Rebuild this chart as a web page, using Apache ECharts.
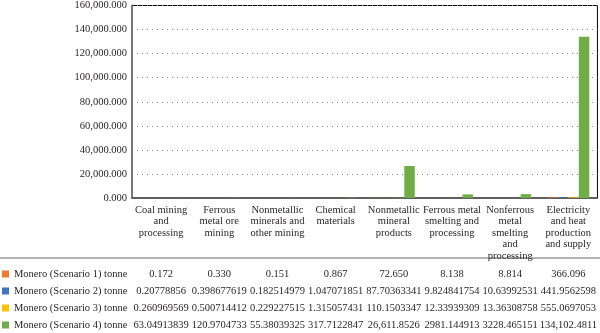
<!DOCTYPE html>
<html>
<head>
<meta charset="utf-8">
<script src="https://cdn.jsdelivr.net/npm/echarts@6/dist/echarts.min.js"></script>
<style>
  html, body { margin: 0; padding: 0; background: #fff; }
  #chart { width: 600px; height: 333px; }
</style>
</head>
<body>
<div id="chart"></div>
<script>
// Industry sectors (line breaks give the wrapped tick labels)
const categories = [
  'Coal mining\nand\nprocessing',
  'Ferrous\nmetal ore\nmining',
  'Nonmetallic\nminerals and\nother mining',
  'Chemical\nmaterials',
  'Nonmetallic\nmineral\nproducts',
  'Ferrous metal\nsmelting and\nprocessing',
  'Nonferrous\nmetal\nsmelting\nand\nprocessing',
  'Electricity\nand heat\nproduction\nand supply'
];

const seriesNames = [
  'Monero (Scenario 1) tonne',
  'Monero (Scenario 2) tonne',
  'Monero (Scenario 3) tonne',
  'Monero (Scenario 4) tonne'
];

const scenario1 = [0.172, 0.330, 0.151, 0.867, 72.650, 8.138, 8.814, 366.096];
const scenario2 = [0.20778856, 0.398677619, 0.182514979, 1.047071851, 87.70363341, 9.824841754, 10.63992531, 441.9562598];
const scenario3 = [0.260969569, 0.500714412, 0.229227515, 1.315057431, 110.1503347, 12.33939309, 13.36308758, 555.0697053];
const scenario4 = [63.04913839, 120.9704733, 55.38039325, 317.7122847, 26611.8526, 2981.144913, 3228.465151, 134102.4811];

const seriesColors = ['#ED7D31', '#4472C4', '#FFC000', '#70AD47'];

// Value axis
const yMin = 0, yMax = 160000, yStep = 20000;

const allValues = [scenario1, scenario2, scenario3, scenario4];
const FONT = '"Liberation Serif", "DejaVu Serif", serif';
const TEXT = '#231f20';

function groupThousands(intPart) {
  return intPart.replace(/\B(?=(\d{3})+(?!\d))/g, ',');
}

// Table cell text: scenario 1 is shown with three decimals, the others as computed;
// values of five or more integer digits get thousands separators.
function cellText(row, v) {
  let s = row === 0 ? v.toFixed(3) : String(v);
  const parts = s.split('.');
  if (Math.abs(v) >= 10000) parts[0] = groupThousands(parts[0]);
  return parts.join('.');
}

const PLOT_BOTTOM = 198;
const rowCenters = [274, 291, 308, 325];

const tableAxes = allValues.map((vals, row) => ({
  type: 'category',
  data: categories,
  gridIndex: 0,
  position: 'bottom',
  offset: rowCenters[row] - PLOT_BOTTOM - 6,
  axisLine: { show: false },
  axisTick: { show: false },
  axisLabel: {
    interval: 0,
    margin: 0,
    fontFamily: FONT,
    fontSize: 10.5,
    lineHeight: 12,
    color: TEXT,
    formatter: (value, idx) => cellText(row, vals[idx])
  }
}));

const chart = echarts.init(document.getElementById('chart'), null, { renderer: 'canvas' });

chart.setOption({
  animation: false,
  backgroundColor: '#fff',
  grid: {
    left: 132, right: 2, top: 3, bottom: 333 - PLOT_BOTTOM,
    show: true, borderColor: '#000', borderWidth: 1, backgroundColor: 'transparent'
  },
  legend: {
    orient: 'vertical',
    left: 2,
    top: rowCenters[0] - 6,
    height: 80,
    padding: 0,
    icon: 'rect',
    itemWidth: 7,
    itemHeight: 7,
    itemGap: 5,
    selectedMode: false,
    textStyle: { fontFamily: FONT, fontSize: 10.5, color: TEXT, lineHeight: 12 },
    data: seriesNames
  },
  xAxis: [
    {
      type: 'category',
      data: categories,
      axisLine: { lineStyle: { color: '#555', width: 1.5 } },
      axisTick: { show: false },
      axisLabel: {
        interval: 0,
        margin: 6,
        fontFamily: FONT,
        fontSize: 10.5,
        lineHeight: 11.5,
        color: TEXT
      }
    },
    ...tableAxes
  ],
  yAxis: {
    type: 'value',
    min: yMin,
    max: yMax,
    interval: yStep,
    axisLine: { show: true, lineStyle: { color: '#777', width: 2 } },
    axisTick: { show: false },
    splitLine: { lineStyle: { color: '#8a8a8a', width: 1, type: [1, 4] } },
    axisLabel: {
      margin: 5,
      fontFamily: FONT,
      fontSize: 10.5,
      color: TEXT,
      formatter: v => groupThousands(Math.floor(v).toString()) + '.' + v.toFixed(3).split('.')[1]
    }
  },
  series: allValues.map((vals, i) => ({
    name: seriesNames[i],
    type: 'bar',
    data: vals,
    barGap: '0%',
    barCategoryGap: '28%',
    itemStyle: { color: seriesColors[i] }
  })),
  graphic: [
    {
      type: 'line',
      shape: { x1: 0, y1: 258, x2: 600, y2: 258 },
      style: { stroke: '#9a9a9a', lineWidth: 1.5 }
    }
  ]
});
</script>
</body>
</html>
